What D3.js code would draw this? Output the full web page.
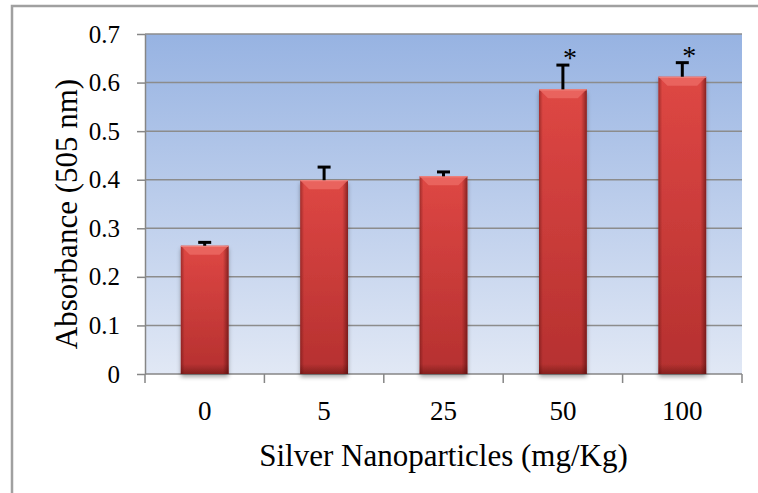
<!DOCTYPE html>
<html>
<head>
<meta charset="utf-8">
<script src="https://cdn.jsdelivr.net/npm/d3@7"></script>
<style>
  body { margin: 0; background: #ffffff; }
  svg { display: block; font-family: "Liberation Serif", "Times New Roman", serif; }
</style>
</head>
<body>
<div id="chart"></div>
<script>
// Chart data
const categories = ["0", "5", "25", "50", "100"];
const absorbance = [0.264, 0.399, 0.407, 0.586, 0.612];
const errors = [0.007, 0.027, 0.009, 0.05, 0.029];
const significant = [false, false, false, true, true];
const yTicks = [0, 0.1, 0.2, 0.3, 0.4, 0.5, 0.6, 0.7];

var width = 758;
var height = 493;
const margin = ({ top: 34, right: 16, bottom: 119, left: 145 });

var svg = d3.select("#chart").append("svg")
    .attr("width", width)
    .attr("height", height);

var defs = svg.append("defs");

// plot area background, blue fading to pale
var bgGrad = defs.append("linearGradient")
    .attr("id", "bgGrad")
    .attr("x1", 0).attr("y1", 0).attr("x2", 0).attr("y2", 1);
bgGrad.append("stop").attr("offset", "0%").attr("stop-color", "#97b3e2");
bgGrad.append("stop").attr("offset", "100%").attr("stop-color", "#e1e8f5");

// bar body, a bit darker towards the bottom
var barGrad = defs.append("linearGradient")
    .attr("id", "barGrad")
    .attr("x1", 0).attr("y1", 0).attr("x2", 0).attr("y2", 1);
barGrad.append("stop").attr("offset", "0%").attr("stop-color", "#de4744");
barGrad.append("stop").attr("offset", "100%").attr("stop-color", "#b5302f");

// side shading of the bars
var sideGrad = defs.append("linearGradient")
    .attr("id", "sideGrad")
    .attr("x1", 0).attr("y1", 0).attr("x2", 1).attr("y2", 0);
sideGrad.append("stop").attr("offset", "0%").attr("stop-color", "#5a0e0e").attr("stop-opacity", 0.45);
sideGrad.append("stop").attr("offset", "8%").attr("stop-color", "#5a0e0e").attr("stop-opacity", 0);
sideGrad.append("stop").attr("offset", "88%").attr("stop-color", "#5a0e0e").attr("stop-opacity", 0);
sideGrad.append("stop").attr("offset", "100%").attr("stop-color", "#4a0a0a").attr("stop-opacity", 0.6);

// dark strip at the bottom of the bars
var bottomGrad = defs.append("linearGradient")
    .attr("id", "bottomGrad")
    .attr("x1", 0).attr("y1", 0).attr("x2", 0).attr("y2", 1);
bottomGrad.append("stop").attr("offset", "0%").attr("stop-color", "#4a0a0a").attr("stop-opacity", 0);
bottomGrad.append("stop").attr("offset", "100%").attr("stop-color", "#4a0a0a").attr("stop-opacity", 0.45);

var shadow = defs.append("filter")
    .attr("id", "barShadow")
    .attr("x", "-20%").attr("y", "-5%").attr("width", "140%").attr("height", "115%");
shadow.append("feDropShadow")
    .attr("dx", 0).attr("dy", 3)
    .attr("stdDeviation", 2)
    .attr("flood-color", "#000000")
    .attr("flood-opacity", 0.35);

// outer frame of the chart
svg.append("rect")
    .attr("x", 12)
    .attr("y", 6)
    .attr("width", 800)
    .attr("height", 600)
    .attr("fill", "none")
    .attr("stroke", "#a0a0a0")
    .attr("stroke-width", 2.5);

const xScale = d3.scaleBand()
    .domain(categories)
    .range([margin.left, width - margin.right])
    .paddingInner(0.6)
    .paddingOuter(0.3);

// category boundaries for the excel-like tick marks
const xEdges = d3.scaleLinear()
    .domain([0, categories.length])
    .range([margin.left, width - margin.right]);

const yScale = d3.scaleLinear()
    .domain([0, 0.7])
    .range([height - margin.bottom, margin.top]);

// background
svg.append("rect")
    .attr("x", margin.left)
    .attr("y", yScale(0.7))
    .attr("width", width - margin.right - margin.left)
    .attr("height", yScale(0) - yScale(0.7))
    .attr("fill", "url(#bgGrad)");

// gridlines
svg.append("g")
    .selectAll("line")
    .data(yTicks.filter(d => d > 0))
    .enter()
    .append("line")
    .attr("x1", margin.left)
    .attr("x2", width - margin.right)
    .attr("y1", d => yScale(d))
    .attr("y2", d => yScale(d))
    .attr("stroke", "#8c8c8c")
    .attr("stroke-width", 1.5);

// y axis
const yAxis = g => g
    .attr("transform", `translate(${margin.left}, 0)`)
    .call(d3.axisLeft(yScale)
        .tickValues(yTicks)
        .tickSize(8)
        .tickSizeOuter(0)
        .tickPadding(17)
        .tickFormat(d => d === 0 ? "0" : d.toFixed(1)));
var yG = svg.append("g").call(yAxis);
yG.select(".domain").attr("stroke", "#868686").attr("stroke-width", 1.5);
yG.selectAll(".tick line").attr("stroke", "#868686").attr("stroke-width", 1.5);
yG.selectAll(".tick text")
    .attr("font-family", "'Liberation Serif', 'Times New Roman', serif")
    .attr("font-size", 25)
    .attr("fill", "#000000");

// x axis line and boundary ticks
svg.append("line")
    .attr("x1", margin.left)
    .attr("x2", width - margin.right)
    .attr("y1", yScale(0))
    .attr("y2", yScale(0))
    .attr("stroke", "#868686")
    .attr("stroke-width", 1.5);
svg.append("g")
    .selectAll("line")
    .data(d3.range(categories.length + 1))
    .enter()
    .append("line")
    .attr("x1", d => xEdges(d))
    .attr("x2", d => xEdges(d))
    .attr("y1", yScale(0))
    .attr("y2", yScale(0) + 9)
    .attr("stroke", "#868686")
    .attr("stroke-width", 1.5);
svg.append("g")
    .selectAll("text")
    .data(categories)
    .enter()
    .append("text")
    .attr("x", d => xScale(d) + xScale.bandwidth() / 2)
    .attr("y", yScale(0) + 46)
    .attr("text-anchor", "middle")
    .attr("font-size", 27)
    .attr("fill", "#000000")
    .text(d => d);

// bars
const rows = categories.map((c, i) => ({
    cat: c, value: absorbance[i], err: errors[i], star: significant[i]
}));
var bars = svg.append("g")
    .selectAll("g")
    .data(rows)
    .enter()
    .append("g");

bars.append("rect")
    .attr("x", d => xScale(d.cat))
    .attr("y", d => yScale(d.value))
    .attr("width", xScale.bandwidth())
    .attr("height", d => yScale(0) - yScale(d.value))
    .attr("fill", "url(#barGrad)")
    .attr("filter", "url(#barShadow)");
bars.append("rect")
    .attr("x", d => xScale(d.cat))
    .attr("y", d => yScale(d.value))
    .attr("width", xScale.bandwidth())
    .attr("height", d => yScale(0) - yScale(d.value))
    .attr("fill", "url(#sideGrad)");
bars.append("rect")
    .attr("x", d => xScale(d.cat))
    .attr("y", yScale(0) - 10)
    .attr("width", xScale.bandwidth())
    .attr("height", 10)
    .attr("fill", "url(#bottomGrad)");
// light bevel on the top edge
bars.append("path")
    .attr("d", d => {
        const x0 = xScale(d.cat), x1 = x0 + xScale.bandwidth(), y0 = yScale(d.value);
        return `M${x0},${y0}L${x1},${y0}L${x1 - 9},${y0 + 9}L${x0 + 9},${y0 + 9}Z`;
    })
    .attr("fill", "#ec6a64")
    .attr("opacity", 0.8);
bars.append("line")
    .attr("x1", d => xScale(d.cat))
    .attr("x2", d => xScale(d.cat) + xScale.bandwidth())
    .attr("y1", d => yScale(d.value) + 0.5)
    .attr("y2", d => yScale(d.value) + 0.5)
    .attr("stroke", "#f08a84")
    .attr("stroke-width", 1);

// error bars, upper half only
var cx = d => xScale(d.cat) + xScale.bandwidth() / 2;
bars.append("line")
    .attr("x1", cx)
    .attr("x2", cx)
    .attr("y1", d => yScale(d.value))
    .attr("y2", d => yScale(d.value + d.err))
    .attr("stroke", "#000000")
    .attr("stroke-width", 3);
bars.append("line")
    .attr("x1", d => cx(d) - 6.5)
    .attr("x2", d => cx(d) + 6.5)
    .attr("y1", d => yScale(d.value + d.err))
    .attr("y2", d => yScale(d.value + d.err))
    .attr("stroke", "#000000")
    .attr("stroke-width", 3);

// significance marks
bars.filter(d => d.star)
    .append("text")
    .attr("x", d => cx(d) + 7)
    .attr("y", d => yScale(d.value + d.err) + 2)
    .attr("text-anchor", "middle")
    .attr("font-size", 28)
    .attr("fill", "#000000")
    .text("*");

// axis titles
svg.append("text")
    .attr("transform", `translate(77, ${(yScale(0) + yScale(0.7)) / 2 + 10}) rotate(-90)`)
    .attr("text-anchor", "middle")
    .attr("font-size", 31)
    .attr("fill", "#000000")
    .text("Absorbance (505 nm)");

svg.append("text")
    .attr("x", (margin.left + width - margin.right) / 2)
    .attr("y", 466)
    .attr("text-anchor", "middle")
    .attr("font-size", 31)
    .attr("fill", "#000000")
    .text("Silver Nanoparticles (mg/Kg)");
</script>
</body>
</html>
